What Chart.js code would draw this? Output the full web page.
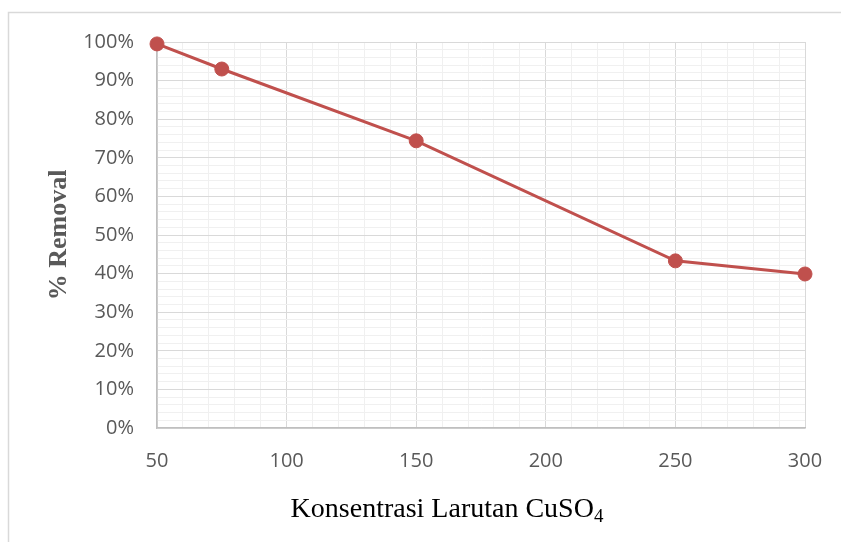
<!DOCTYPE html>
<html>
<head>
<meta charset="utf-8">
<script src="https://cdn.jsdelivr.net/npm/chart.js@4"></script>
<style>
  html, body { margin: 0; padding: 0; background: #fff; }
  #wrap { width: 841px; height: 542px; }
</style>
</head>
<body>
<div id="wrap"><canvas id="chart" width="841" height="542"></canvas></div>
<script>
// konsentrasi CuSO4 dan % removal
const konsentrasi = [50, 75, 150, 250, 300];
const removal = [99.5, 93.0, 74.4, 43.3, 39.9];

const xMajor = [50, 100, 150, 200, 250, 300];
const yMajor = [0, 10, 20, 30, 40, 50, 60, 70, 80, 90, 100];

const xTitle = 'Konsentrasi Larutan CuSO';
const xTitleSub = '4';
const yTitle = '% Removal';

const lineColor = '#c0504d';
const majorGrid = '#d9d9d9';
const minorGrid = '#f0f0f0';

// Rahmen + Achsentitel (mit Index)
const extras = {
  id: 'extras',
  beforeDraw(chart) {
    const c = chart.ctx;
    c.save();
    c.strokeStyle = '#d9d9d9';
    c.lineWidth = 1.5;
    c.beginPath();
    c.moveTo(8.5, 542);
    c.lineTo(8.5, 12.5);
    c.lineTo(841, 12.5);
    c.stroke();
    c.restore();
  },
  afterDraw(chart) {
    const c = chart.ctx;
    c.save();
    c.fillStyle = '#000';
    c.textBaseline = 'alphabetic';
    c.textAlign = 'left';
    c.font = '28px "Liberation Serif", "Times New Roman", serif';
    const w1 = c.measureText(xTitle).width;
    c.font = '19px "Liberation Serif", "Times New Roman", serif';
    const w2 = c.measureText(xTitleSub).width;
    const x0 = 447 - (w1 + w2) / 2;
    c.font = '28px "Liberation Serif", "Times New Roman", serif';
    c.fillText(xTitle, x0, 517);
    c.font = '19px "Liberation Serif", "Times New Roman", serif';
    c.fillText(xTitleSub, x0 + w1, 522);
    c.restore();
  }
};

const tickFont = { family: '"Open Sans", sans-serif', size: 20 };

new Chart(document.getElementById('chart'), {
  type: 'line',
  data: {
    datasets: [{
      data: konsentrasi.map((k, i) => ({ x: k, y: removal[i] })),
      borderColor: lineColor,
      backgroundColor: lineColor,
      borderWidth: 3,
      pointRadius: 7,
      pointBorderWidth: 1,
      pointBackgroundColor: lineColor,
      pointBorderColor: lineColor,
      tension: 0,
      fill: false,
      clip: false
    }]
  },
  options: {
    responsive: false,
    animation: false,
    layout: { padding: { left: 0, top: 42, right: 36, bottom: 0 } },
    plugins: {
      legend: { display: false },
      tooltip: { enabled: false }
    },
    scales: {
      x: {
        type: 'linear',
        min: 50,
        max: 300,
        afterFit: (s) => {
          s.height = 114;
          s.paddingLeft = 0;
          s.paddingRight = 0;
        },
        afterBuildTicks: (s) => {
          const t = [];
          for (let v = 50; v <= 300; v += 10) t.push({ value: v });
          s.ticks = t;
        },
        ticks: {
          autoSkip: false,
          maxRotation: 0,
          padding: 21,
          color: '#595959',
          font: tickFont,
          callback: (v) => xMajor.includes(v) ? String(v) : ''
        },
        grid: {
          drawTicks: false,
          lineWidth: 1,
          color: (ctx) => xMajor.includes(ctx.tick && ctx.tick.value) ? majorGrid : minorGrid
        },
        border: { display: true, color: '#bfbfbf', width: 1.5 }
      },
      y: {
        min: 0,
        max: 100,
        afterFit: (s) => { s.width = 157; },
        afterBuildTicks: (s) => {
          const t = [];
          for (let v = 0; v <= 100; v += 2) t.push({ value: v });
          s.ticks = t;
        },
        ticks: {
          autoSkip: false,
          padding: 23,
          color: '#595959',
          font: tickFont,
          callback: (v) => yMajor.includes(v) ? v + '%' : ''
        },
        grid: {
          drawTicks: false,
          lineWidth: 1,
          color: (ctx) => yMajor.includes(ctx.tick && ctx.tick.value) ? majorGrid : minorGrid
        },
        border: { display: true, color: '#bfbfbf', width: 1.5 },
        title: {
          display: true,
          text: yTitle,
          color: '#595959',
          font: { family: '"Liberation Serif", "Times New Roman", serif', size: 26, weight: 'bold' },
          padding: { top: 44, bottom: 0 }
        }
      }
    }
  },
  plugins: [extras]
});
</script>
</body>
</html>
